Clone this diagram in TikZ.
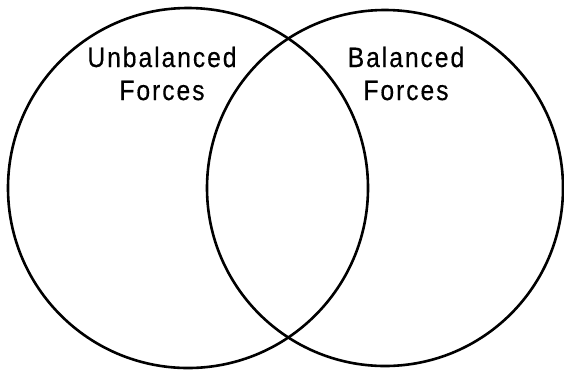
\documentclass[tikz,border=0pt]{standalone}
\usepackage{fontspec}
\setmainfont{Liberation Sans}[FakeStretch=0.88, LetterSpace=7, FakeBold=0.4]
\usetikzlibrary{positioning}
\tikzset{
  set/.style={draw, line width=2.6pt},
  lbl/.style={align=center, inner sep=0pt,
              font=\fontsize{28}{33}\selectfont}
}

\begin{document}
\begin{tikzpicture}[x=1pt,y=-1pt]
\useasboundingbox (0,0) rectangle (564,373);
\draw[set] (188,188) circle [radius=180];
\draw[set] (385,188) circle [radius=178];
\node[lbl] (unbal) at (162,73.5) {Unbalanced\\Forces};
\node[lbl] (bal) at (406,73.5) {Balanced\\Forces};
\end{tikzpicture}
\end{document}
